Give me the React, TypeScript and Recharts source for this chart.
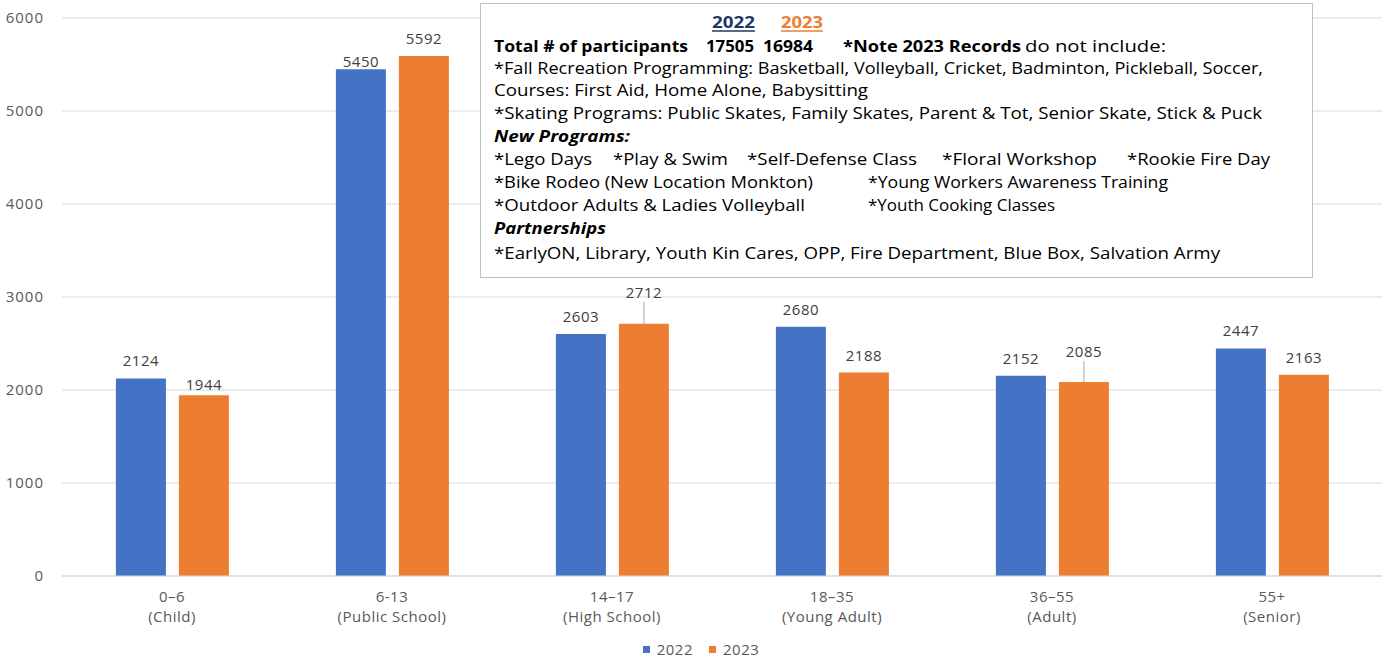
import { BarChart, Bar, XAxis, YAxis, CartesianGrid, LabelList, Legend } from "recharts";

const CATEGORIES = ["0–6", "6-13", "14–17", "18–35", "36–55", "55+"];
const SUBLABELS = ["(Child)", "(Public School)", "(High School)", "(Young Adult)", "(Adult)", "(Senior)"];
const VALUES_2022 = [2124, 5450, 2603, 2680, 2152, 2447];
const VALUES_2023 = [1944, 5592, 2712, 2188, 2085, 2163];
const Y_TICKS = [0, 1000, 2000, 3000, 4000, 5000, 6000];

const BLUE = "#4472c4";
const ORANGE = "#ed7d31";
const GREY_TEXT = "#595959";
const FONT = "'Open Sans', sans-serif";

// how far a label sits off its usual spot (Excel labels were dragged by hand)
const LABEL_NUDGE: Record<string, number> = {
  "2022-1": -10,
  "2023-0": -7,
  "2023-2": 14,
  "2023-4": 13,
};

type Seg = { t: string; x: number; w: number; bold?: boolean; italic?: boolean; color?: string; underline?: boolean };

// annotation box copied from the slide
const NOTE_LINES: { y: number; segs: Seg[] }[] = [
  {
    y: 22,
    segs: [
      { t: "2022", x: 712, w: 43, bold: true, color: "#1f3864", underline: true },
      { t: "2023", x: 781, w: 42, bold: true, color: ORANGE, underline: true },
    ],
  },
  {
    y: 46,
    segs: [
      { t: "Total # of participants", x: 494, w: 194, bold: true },
      { t: "17505", x: 706, w: 48, bold: true },
      { t: "16984", x: 763, w: 50, bold: true },
      { t: "*Note 2023 Records", x: 843, w: 178, bold: true },
      { t: "do not include:", x: 1025, w: 141 },
    ],
  },
  { y: 68, segs: [{ t: "*Fall Recreation Programming: Basketball, Volleyball, Cricket, Badminton, Pickleball, Soccer,", x: 494, w: 769 }] },
  { y: 90, segs: [{ t: "Courses: First Aid, Home Alone, Babysitting", x: 494, w: 374 }] },
  { y: 113, segs: [{ t: "*Skating Programs: Public Skates, Family Skates, Parent & Tot, Senior Skate, Stick & Puck", x: 494, w: 768 }] },
  { y: 136, segs: [{ t: "New Programs:", x: 494, w: 136, bold: true, italic: true }] },
  {
    y: 159,
    segs: [
      { t: "*Lego Days", x: 494, w: 98 },
      { t: "*Play & Swim", x: 613, w: 115 },
      { t: "*Self-Defense Class", x: 747, w: 170 },
      { t: "*Floral Workshop", x: 942, w: 155 },
      { t: "*Rookie Fire Day", x: 1127, w: 143 },
    ],
  },
  {
    y: 182,
    segs: [
      { t: "*Bike Rodeo (New Location Monkton)", x: 494, w: 319 },
      { t: "*Young Workers Awareness Training", x: 868, w: 300 },
    ],
  },
  {
    y: 205,
    segs: [
      { t: "*Outdoor Adults & Ladies Volleyball", x: 494, w: 311 },
      { t: "*Youth Cooking Classes", x: 868, w: 187 },
    ],
  },
  { y: 228, segs: [{ t: "Partnerships", x: 494, w: 112, bold: true, italic: true }] },
  { y: 253, segs: [{ t: "*EarlyON, Library, Youth Kin Cares, OPP, Fire Department, Blue Box, Salvation Army", x: 494, w: 726 }] },
];

const data = CATEGORIES.map((cat, i) => ({
  cat,
  sub: SUBLABELS[i],
  v2022: VALUES_2022[i],
  v2023: VALUES_2023[i],
}));

const makeLabel = (series: string) => (props: any) => {
  const { x, y, width, value, index } = props;
  const nudge = LABEL_NUDGE[`${series}-${index}`] ?? 0;
  const cx = Number(x) + Number(width) / 2;
  const cy = Number(y) - 17 - nudge;
  return (
    <g>
      {nudge > 10 && <line x1={cx} x2={cx} y1={cy + 9} y2={Number(y)} stroke="#a6a6a6" strokeWidth={1} />}
      <text x={cx} y={cy + 5} textAnchor="middle" fontSize={15} letterSpacing={0.5} fill="#404040" fontFamily={FONT}>
        {value}
      </text>
    </g>
  );
};

const XTick = (props: any) => {
  const { x, y, index } = props;
  return (
    <g>
      <text x={x} y={y + 26} textAnchor="middle" fontSize={15} letterSpacing={0.5} fill={GREY_TEXT} fontFamily={FONT}>
        {CATEGORIES[index]}
      </text>
      <text x={x} y={y + 46} textAnchor="middle" fontSize={15} letterSpacing={0.5} fill={GREY_TEXT} fontFamily={FONT}>
        {SUBLABELS[index]}
      </text>
    </g>
  );
};

const YTick = (props: any) => {
  const { x, y, payload } = props;
  return (
    <text x={x - 18} y={y + 5} textAnchor="end" fontSize={15} letterSpacing={1} fill={GREY_TEXT} fontFamily={FONT}>
      {payload.value}
    </text>
  );
};

const LegendBox = () => (
  <div
    style={{
      display: "flex",
      justifyContent: "center",
      alignItems: "center",
      height: 28,
      paddingTop: 6,
      paddingLeft: 20,
      boxSizing: "border-box",
      fontFamily: FONT,
      fontSize: 15,
      lineHeight: "20px",
      letterSpacing: 0.5,
      color: GREY_TEXT,
    }}
  >
    <span style={{ width: 7, height: 7, background: BLUE, marginRight: 7 }} />
    <span style={{ marginRight: 16 }}>2022</span>
    <span style={{ width: 7, height: 7, background: ORANGE, marginRight: 7 }} />
    <span>2023</span>
  </div>
);

function NoteBox() {
  return (
    <svg width={1391} height={660} style={{ position: "absolute", left: 0, top: 0, pointerEvents: "none" }}>
      <rect x={480.5} y={3.5} width={832} height={274} fill="#fff" stroke="#bfbfbf" strokeWidth={1} />
      {NOTE_LINES.map((line, li) =>
        line.segs.map((s, si) => (
          <g key={`${li}-${si}`}>
            <text
              x={s.x}
              y={line.y + 6}
              textLength={s.w}
              lengthAdjust="spacingAndGlyphs"
              fontSize={16}
              fontFamily={FONT}
              fontWeight={s.bold ? 700 : 400}
              fontStyle={s.italic ? "italic" : "normal"}
              fill={s.color ?? "#000"}
            >
              {s.t}
            </text>
            {s.underline && <line x1={s.x} x2={s.x + s.w} y1={line.y + 9} y2={line.y + 9} stroke={s.color} strokeWidth={1.5} />}
          </g>
        ))
      )}
    </svg>
  );
}

export default function App() {
  return (
    <div style={{ position: "absolute", left: 0, top: 0, width: 1391, height: 660, background: "#fff" }}>
      <BarChart
        width={1391}
        height={660}
        data={data}
        margin={{ top: 18, right: 9, bottom: 0, left: 0 }}
        barCategoryGap="24.5%"
        barGap={13}
      >
        <CartesianGrid vertical={false} stroke="#d9d9d9" />
        <XAxis
          dataKey="cat"
          height={56}
          tickLine={false}
          tickSize={0}
          tickMargin={0}
          axisLine={{ stroke: "#d9d9d9" }}
          tick={<XTick />}
          interval={0}
        />
        <YAxis
          width={62}
          domain={[0, 6000]}
          ticks={Y_TICKS}
          axisLine={false}
          tickLine={false}
          tickSize={0}
          tickMargin={0}
          tick={<YTick />}
        />
        <Legend verticalAlign="bottom" height={28} content={<LegendBox />} />
        <Bar dataKey="v2022" name="2022" fill={BLUE} isAnimationActive={false}>
          <LabelList dataKey="v2022" content={makeLabel("2022")} />
        </Bar>
        <Bar dataKey="v2023" name="2023" fill={ORANGE} isAnimationActive={false}>
          <LabelList dataKey="v2023" content={makeLabel("2023")} />
        </Bar>
      </BarChart>
      <NoteBox />
    </div>
  );
}
